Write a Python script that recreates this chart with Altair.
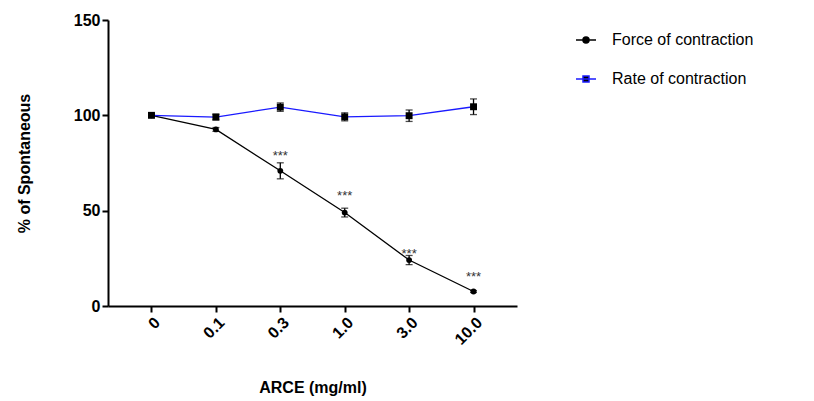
import altair as alt
import pandas as pd

doses = ["0", "0.1", "0.3", "1.0", "3.0", "10.0"]
series = ["Force of contraction", "Rate of contraction"]
force_mean = [100.0, 92.6, 70.9, 49.0, 24.1, 7.6]
force_sem = [0.6, 1.0, 4.2, 2.3, 2.4, 0.5]
rate_mean = [100.0, 99.1, 104.3, 99.2, 99.8, 104.5]
rate_sem = [0.8, 1.5, 2.2, 2.1, 3.0, 4.1]
star_doses = ["0.3", "1.0", "3.0", "10.0"]
star_y = [80.4, 59.4, 28.8, 16.6]

rows = []
for name, means, sems in [(series[0], force_mean, force_sem), (series[1], rate_mean, rate_sem)]:
    for d, m, s in zip(doses, means, sems):
        rows.append({"dose": d, "series": name, "mean": m, "lo": m - s, "hi": m + s})
df = pd.DataFrame(rows)
stars = pd.DataFrame({"dose": star_doses, "sy": star_y})

FONT = "Liberation Sans"

x_enc = alt.X(
    "dose:N",
    sort=doses,
    scale=alt.Scale(type="point", padding=0.675),
    axis=alt.Axis(title="ARCE (mg/ml)", labelAngle=-45, titlePadding=32),
)
y_scale = alt.Scale(domain=[0, 150])
y_axis = alt.Axis(values=[0, 50, 100, 150], title="% of Spontaneous", titlePadding=41)

base = alt.Chart(df)

circle_sym = "M-1,0H1M-0.3,0A0.3,0.3,0,1,1,0.3,0A0.3,0.3,0,1,1,-0.3,0Z"
square_sym = "M-1,0H1M-0.3,-0.3H0.3V0.3H-0.3Z"

line = base.mark_line(strokeWidth=1.3).encode(
    x=x_enc,
    y=alt.Y("mean:Q", scale=y_scale, axis=y_axis),
    color=alt.Color(
        "series:N",
        scale=alt.Scale(domain=series, range=["#000000", "#1a1aff"]),
        legend=alt.Legend(
            title=None,
            orient="none",
            legendX=467,
            legendY=9,
            symbolSize=400,
            symbolStrokeWidth=1.5,
            labelFontSize=16,
            labelFont=FONT,
            labelColor="#000000",
            rowPadding=20,
            labelOffset=15,
        ),
    ),
)

legend_layer = base.mark_point(filled=True, color="black", opacity=1).encode(
    x=x_enc,
    y=alt.Y("mean:Q", scale=y_scale),
    shape=alt.Shape("series:N", scale=alt.Scale(domain=series, range=[circle_sym, square_sym])),
).transform_filter("false")

err = base.mark_rule(color="black", strokeWidth=1.3).encode(
    x=x_enc, y=alt.Y("lo:Q", scale=y_scale), y2="hi:Q"
)
cap_lo = base.mark_tick(color="black", thickness=1.3, size=7, orient="horizontal").encode(
    x=x_enc, y=alt.Y("lo:Q", scale=y_scale)
)
cap_hi = base.mark_tick(color="black", thickness=1.3, size=7, orient="horizontal").encode(
    x=x_enc, y=alt.Y("hi:Q", scale=y_scale)
)
pts_force = base.mark_point(filled=True, color="black", opacity=1, shape="circle", size=34).encode(
    x=x_enc, y=alt.Y("mean:Q", scale=y_scale)
).transform_filter(alt.datum.series == series[0])
pts_rate = base.mark_point(filled=True, color="black", opacity=1, shape="square", size=48).encode(
    x=x_enc, y=alt.Y("mean:Q", scale=y_scale)
).transform_filter(alt.datum.series == series[1])
txt = alt.Chart(stars).mark_text(text="***", fontSize=13, color="#333333", font=FONT, baseline="middle", dy=3).encode(
    x=x_enc, y=alt.Y("sy:Q", scale=y_scale)
)

chart = (
    alt.layer(line, legend_layer, err, cap_lo, cap_hi, pts_force, pts_rate, txt)
    .properties(
        width=409,
        height=286,
        autosize=alt.AutoSizeParams(type="none"),
        padding={"left": 100, "top": 12, "right": 280, "bottom": 93},
    )
    .configure_view(stroke=None)
    .configure_axis(
        grid=False,
        domainColor="black",
        domainWidth=2,
        tickColor="black",
        tickWidth=2,
        tickSize=6,
        labelFont=FONT,
        labelFontSize=16,
        labelFontWeight="bold",
        labelColor="black",
        titleFont=FONT,
        titleFontSize=16,
        titleFontWeight="bold",
        titleColor="black",
    )
)

chart.save("out.html", embed_options={"renderer": "svg", "actions": False})
